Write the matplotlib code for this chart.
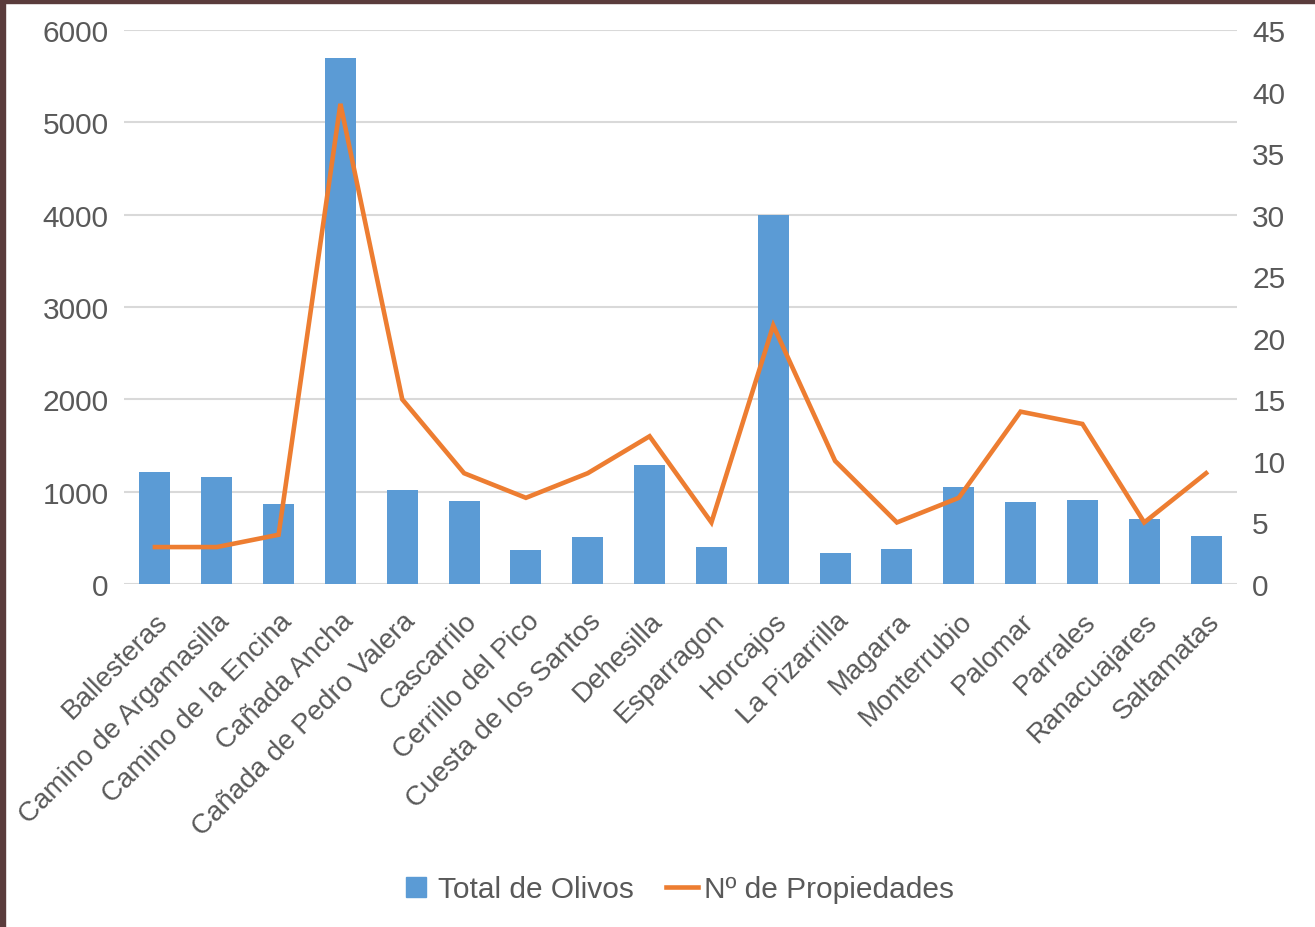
import matplotlib
matplotlib.use("Agg")
import matplotlib.pyplot as plt
from matplotlib.patches import Rectangle
from matplotlib.lines import Line2D
import numpy as np

categories = ["Ballesteras", "Camino de Argamasilla", "Camino de la Encina", "Cañada Ancha",
              "Cañada de Pedro Valera", "Cascarrilo", "Cerrillo del Pico", "Cuesta de los Santos",
              "Dehesilla", "Esparragon", "Horcajos", "La Pizarrilla", "Magarra", "Monterrubio",
              "Palomar", "Parrales", "Ranacuajares", "Saltamatas"]
total_olivos = [1210, 1160, 870, 5700, 1020, 900, 370, 510, 1290, 400, 4000, 340, 380, 1050,
                890, 910, 700, 520]
n_propiedades = [3, 3, 4, 39, 15, 9, 7, 9, 12, 5, 21, 10, 5, 7, 14, 13, 5, 9]
left_ticks = [0, 1000, 2000, 3000, 4000, 5000, 6000]
right_ticks = [0, 5, 10, 15, 20, 25, 30, 35, 40, 45]

plt.rcParams['font.family'] = ['Liberation Sans', 'DejaVu Sans']
bar_color = '#5B9BD5'
line_color = '#ED7D31'
text_color = '#595959'
grid_color = '#D9D9D9'

fig = plt.figure(figsize=(13.15, 9.28), dpi=100)
ax = fig.add_axes([124/1315, 1-585/928, (1237-124)/1315, (585-31)/928])
x = np.arange(len(categories))
ax.bar(x, total_olivos, width=0.5, color=bar_color, zorder=2)
ax.set_xlim(-0.5, len(categories)-0.5)
ax.set_ylim(0, 6000)
ax.set_yticks(left_ticks)
for t in left_ticks:
    ax.axhline(t, color=grid_color, lw=1.5, zorder=1)
ax.tick_params(axis='y', length=0, pad=11, labelsize=21.5, labelcolor=text_color)
ax.set_xticks(x)
ax.set_xticklabels(categories, rotation=45, ha='right', rotation_mode='anchor',
                   fontsize=20, color=text_color)
ax.tick_params(axis='x', length=0, pad=17)
for s in ax.spines.values():
    s.set_visible(False)

ax2 = ax.twinx()
ax2.plot(x, n_propiedades, color=line_color, lw=3.3, zorder=3, solid_joinstyle='miter')
ax2.set_ylim(0, 45)
ax2.set_yticks(right_ticks)
ax2.tick_params(axis='y', length=0, pad=11, labelsize=21.5, labelcolor=text_color)
for s in ax2.spines.values():
    s.set_visible(False)

handles = [Line2D([0], [0], marker='s', markersize=15, color=bar_color, linestyle='none'),
           Line2D([0], [0], color=line_color, lw=3.3)]
fig.legend(handles, ["Total de Olivos", "Nº de Propiedades"], loc='center',
           bbox_to_anchor=(677/1315, 1-890/928), ncol=2, frameon=False,
           fontsize=21.5, labelcolor=text_color, handlelength=1.05,
           columnspacing=1.1, handletextpad=0.2)

border = '#5A3C3C'
fig.patches.append(Rectangle((0, 0), 5/1315, 1, transform=fig.transFigure, color=border, zorder=10))
fig.patches.append(Rectangle((0, 1-4/928), 1, 4/928, transform=fig.transFigure, color=border, zorder=10))

fig.savefig("out.png", dpi=100)
